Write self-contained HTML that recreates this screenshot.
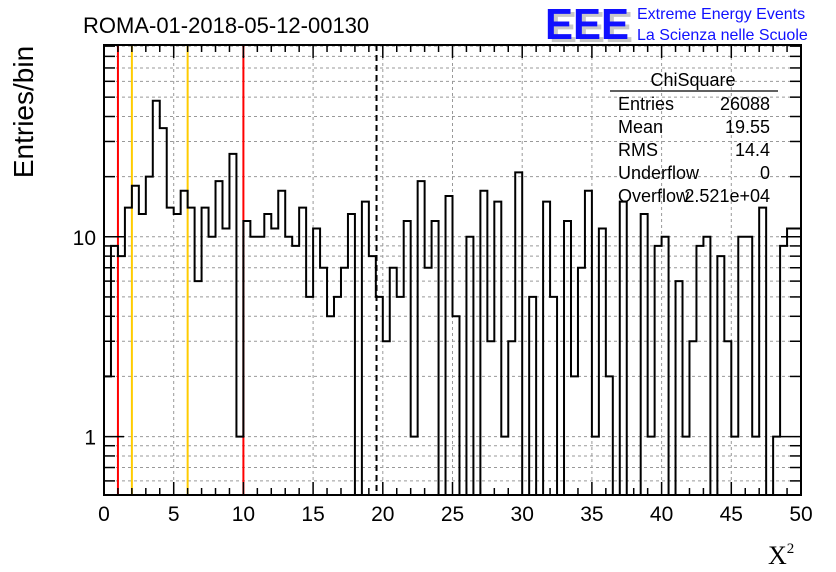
<!DOCTYPE html>
<html><head><meta charset="utf-8">
<style>
html,body{margin:0;padding:0;background:#fff;}
svg{display:block;font-family:"Liberation Sans",sans-serif;}
</style></head>
<body>
<svg id="chart" width="836" height="572" viewBox="0 0 836 572" xmlns="http://www.w3.org/2000/svg">
<rect x="0" y="0" width="836" height="572" fill="#fff"/>
<g id="grid"></g>
<g id="vlines"></g>
<g id="hist"></g>
<g id="axes"></g>
<text x="83" y="33" font-size="22">ROMA-01-2018-05-12-00130</text>
<g>
<text x="549" y="42" font-size="44" font-weight="bold" fill="#c8c8c8" textLength="84" lengthAdjust="spacingAndGlyphs">EEE</text>
<text x="545" y="39" font-size="44" font-weight="bold" fill="#1010ff" textLength="84" lengthAdjust="spacingAndGlyphs">EEE</text>
<text x="637" y="19" font-size="16" fill="#1010ff">Extreme Energy Events</text>
<text x="637" y="40" font-size="16" fill="#1010ff">La Scienza nelle Scuole</text>
</g>
<text transform="translate(33,112) rotate(-90)" text-anchor="middle" font-size="28">Entries/bin</text>
<text x="768" y="564" font-family="Liberation Serif,serif" font-size="26">X<tspan font-size="15" dy="-11">2</tspan></text>
<g font-size="18">
<text x="693" y="86" text-anchor="middle">ChiSquare</text>
<line x1="610" y1="91" x2="778" y2="91" stroke="#000" stroke-width="1.2"/>
<text x="618" y="110">Entries</text><text x="770" y="110" text-anchor="end">26088</text>
<text x="618" y="133">Mean</text><text x="770" y="133" text-anchor="end">19.55</text>
<text x="618" y="156">RMS</text><text x="770" y="156" text-anchor="end">14.4</text>
<text x="618" y="179">Underflow</text><text x="770" y="179" text-anchor="end">0</text>
<text x="618" y="202">Overflow</text><text x="770" y="202" text-anchor="end">2.521e+04</text>
</g>
</svg>
<script>
const binValues = [2,9,8,14,18,13,20,48,35,14,13,17,14,6,14,10,19,11,26,1,
12,10,10,13,11,17,10,9,14,5,11,7,4,5,7,13,0,15,8,5,
3,7,5,12,1,19,7,12,0,16,4,0,10,0,17,3,15,1,3,21,
0,5,0,15,5,0,12,2,7,17,1,11,2,0,15,0,0,13,1,9,
10,0,6,1,3,9,10,0,8,3,1,10,10,1,14,0,1,9,11,11];
const xTickLabels = ["0","5","10","15","20","25","30","35","40","45","50"];
const yTickLabels = ["1","10"];
const redLines = [1,10];
const orangeLines = [2,6];
const meanLine = [19.55];

const X0=104,X1=801,Y0=45,Y1=495,XMIN=0,XMAX=50,YMIN=0.51,YMAX=91.2;
const sx=v=>X0+(v-XMIN)/(XMAX-XMIN)*(X1-X0);
const ly=Math.log10;
const sy=v=>{ if(v<=0) return Y1; const p=Y1-(ly(v)-ly(YMIN))/(ly(YMAX)-ly(YMIN))*(Y1-Y0); return Math.max(Y0,Math.min(Y1,p)); };
const NS="http://www.w3.org/2000/svg";
function mk(tag,parent,attrs){const e=document.createElementNS(NS,tag);for(const k in attrs)e.setAttribute(k,attrs[k]);parent.appendChild(e);return e;}

const grid=document.getElementById('grid');
for(let i=1;i<xTickLabels.length-1;i++){
  const v=parseFloat(xTickLabels[i]);
  const l=mk('line',grid,{x1:sx(v),x2:sx(v),y1:Y0,y2:Y1,stroke:'#999','stroke-dasharray':'3,3','stroke-width':1});
  
  
}
const yGridVals=[];
for(const d of [0.1,1,10]) for(let m=1;m<10;m++){const v=m*d; if(v>YMIN&&v<YMAX) yGridVals.push(v);}
yGridVals.forEach(v=>{
  const l=mk('line',grid,{x1:X0,x2:X1,y1:sy(v),y2:sy(v),stroke:'#999','stroke-dasharray':'3,3','stroke-width':1});
  
  
});

const vl=document.getElementById('vlines');
redLines.forEach(v=>{const l=mk('line',vl,{x1:sx(v),x2:sx(v),y1:Y0,y2:Y1,stroke:'#ff0000','stroke-width':2});
  
  });
orangeLines.forEach(v=>{const l=mk('line',vl,{x1:sx(v),x2:sx(v),y1:Y0,y2:Y1,stroke:'#ffcc00','stroke-width':2});
  
  });
meanLine.forEach(v=>{const l=mk('line',vl,{x1:sx(v),x2:sx(v),y1:Y0,y2:Y1,stroke:'#000','stroke-width':2,'stroke-dasharray':'6,4'});
  
  });

const bw=(XMAX-XMIN)/binValues.length;
let d=`M${sx(0)},${Y1}`;
binValues.forEach((v,i)=>{const y=sy(v);d+=` L${sx(i*bw)},${y} L${sx((i+1)*bw)},${y}`;});
d+=` L${sx(XMAX)},${Y1}`;
const h=mk('path',document.getElementById('hist'),{d:d,fill:'none',stroke:'#000','stroke-width':2});



const ax=document.getElementById('axes');
mk('rect',ax,{x:X0,y:Y0,width:X1-X0,height:Y1-Y0,fill:'none',stroke:'#000','stroke-width':2});
for(let v=0;v<=50;v+=1){
  const len=(v%5===0)?13:7;
  mk('line',ax,{x1:sx(v),x2:sx(v),y1:Y1,y2:Y1-len,stroke:'#000','stroke-width':1.5});
  mk('line',ax,{x1:sx(v),x2:sx(v),y1:Y0,y2:Y0+len,stroke:'#000','stroke-width':1.5});
}
xTickLabels.forEach(s=>{
  const t=mk('text',ax,{x:sx(parseFloat(s)),y:521,'text-anchor':'middle','font-size':21});
  t.textContent=s;
  
  
});
yGridVals.forEach(v=>{
  const major=Math.abs(ly(v)-Math.round(ly(v)))<1e-9;
  const len=major?20:11;
  mk('line',ax,{x1:X0,x2:X0+len,y1:sy(v),y2:sy(v),stroke:'#000','stroke-width':1.5});
  mk('line',ax,{x1:X1,x2:X1-len,y1:sy(v),y2:sy(v),stroke:'#000','stroke-width':1.5});
});
yTickLabels.forEach(s=>{
  const t=mk('text',ax,{x:96,y:sy(parseFloat(s))+8,'text-anchor':'end','font-size':21});
  t.textContent=s;
  
  
});
</script>
</body></html>
